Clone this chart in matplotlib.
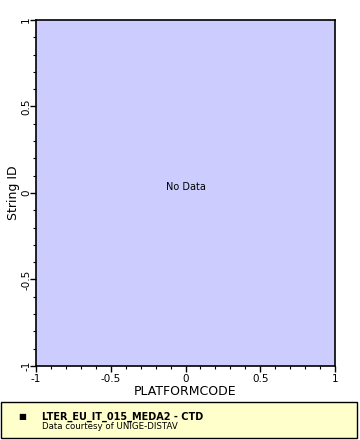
"""Empty platform plot: no data for the selected string."""
import matplotlib.pyplot as plt
from matplotlib.patches import Rectangle
from matplotlib.ticker import MultipleLocator

plt.rcParams["font.family"] = ["DejaVu Sans"]

X_LIMITS = [-1, 1]
Y_LIMITS = [-1, 1]
X_TICKS = [-1, -0.5, 0, 0.5, 1]
Y_TICKS = [-1, -0.5, 0, 0.5, 1]
TICK_LABELS = ["-1", "-0.5", "0", "0.5", "1"]
X_LABEL = "PLATFORMCODE"
Y_LABEL = "String ID"
MESSAGE = "No Data"
LEGEND_TITLE = "LTER_EU_IT_015_MEDA2 - CTD"
LEGEND_NOTE = "Data courtesy of UNIGE-DISTAV"


def main() -> None:
    fig = plt.figure(figsize=(3.6, 4.4), dpi=100)
    ax = fig.add_axes([36 / 360, 74 / 440, 299 / 360, 346 / 440])
    ax.set_facecolor("#ccccff")
    ax.set_xlim(X_LIMITS)
    ax.set_ylim(Y_LIMITS)

    ax.set_xticks(X_TICKS)
    ax.set_xticklabels(TICK_LABELS)
    ax.set_yticks(Y_TICKS)
    ax.set_yticklabels(TICK_LABELS, rotation=90, va="center")
    ax.xaxis.set_minor_locator(MultipleLocator(0.1))
    ax.yaxis.set_minor_locator(MultipleLocator(0.1))
    ax.tick_params(which="major", direction="out", length=4.5, width=1,
                   labelsize=7.5, pad=1)
    ax.tick_params(axis="y", which="major", pad=-1)
    ax.tick_params(which="minor", direction="out", length=2.5, width=0.8)
    for sp in ax.spines.values():
        sp.set_linewidth(1.2)

    ax.set_xlabel(X_LABEL, fontsize=9, labelpad=1)
    ax.set_ylabel(Y_LABEL, fontsize=9, va="center")
    ax.yaxis.set_label_coords((13 - 36) / 299, 0.5)
    ax.annotate(MESSAGE, (0, 0), xytext=(0, 4), textcoords="offset points",
                ha="center", va="center", fontsize=7)

    # legend box at the bottom
    fig.patches.append(Rectangle((1 / 360, 2 / 440), 356 / 360, 36 / 440,
                                 transform=fig.transFigure, facecolor="#ffffcc",
                                 edgecolor="black", linewidth=1))
    fig.text(18 / 360, 1 - 416 / 440, "\u25a0", fontsize=6, va="center")
    fig.text(42 / 360, 1 - 417 / 440, LEGEND_TITLE, fontsize=7,
             fontweight="bold", va="center")
    fig.text(42 / 360, 1 - 426 / 440, LEGEND_NOTE, fontsize=6.2, va="center")

    fig.savefig("out.png", dpi=100)
    plt.close(fig)


if __name__ == "__main__":
    main()
